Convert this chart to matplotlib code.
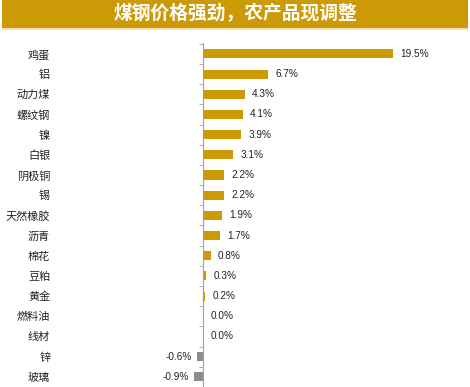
import numpy as np
import matplotlib
matplotlib.use('Agg')
import matplotlib.pyplot as plt
from matplotlib.patches import Rectangle

plt.rcParams['font.family'] = ['Noto Sans CJK SC', 'DejaVu Sans']

# 品种与周涨跌幅(%)
categorias = ['鸡蛋', '铝', '动力煤', '螺纹钢', '镍', '白银', '阴极铜', '锡', '天然橡胶',
              '沥青', '棉花', '豆粕', '黄金', '燃料油', '线材', '锌', '玻璃']
valores = [19.5, 6.7, 4.3, 4.1, 3.9, 3.1, 2.2, 2.2, 1.9, 1.7, 0.8, 0.3, 0.2, 0.0, 0.0, -0.6, -0.9]
titulo = '煤钢价格强劲，农产品现调整'

ORO = '#CC9A06'
GRIS = '#8C8C8C'

W, H = 470, 387
fig = plt.figure(figsize=(W / 100, H / 100), dpi=100)

# barra del título
fig.add_artist(Rectangle((2 / W, 1 - 28 / H), 466 / W, 28 / H, transform=fig.transFigure,
                         facecolor=ORO, edgecolor='none'))
fig.add_artist(Rectangle((2 / W, 1 - 30 / H), 466 / W, 1.5 / H, transform=fig.transFigure,
                         facecolor='#F3E3A8', edgecolor='none'))
fig.text(0.5, 1 - 14 / H, titulo, color='white', fontsize=13.5, fontweight='bold',
         ha='center', va='center')

# ejes: escala ~9.74 px por punto porcentual, eje cero en x=203 px
escala = 9.74
xmin, xmax = -1.5, 25.5
left_px = 203 - (0 - xmin) * escala
width_px = (xmax - xmin) * escala
fila = 20.3
ymin, ymax = -0.55, 16.4
top_px = 54 + ymin * fila
bottom_px = 54 + ymax * fila
ax = fig.add_axes([left_px / W, 1 - bottom_px / H, width_px / W, (bottom_px - top_px) / H])

y = np.arange(len(categorias))
colores = [ORO if v >= 0 else GRIS for v in valores]
ax.barh(y, valores, height=0.45, color=colores, edgecolor='none')

for yi, v in zip(y, valores):
    if v >= 0:
        ax.text(v + 0.75, yi, f'{v:.1f}%', ha='left', va='center', fontsize=7.2,
                family='Liberation Sans', color='#222222')
    else:
        ax.text(v - 0.5, yi, f'{v:.1f}%', ha='right', va='center', fontsize=7.2,
                family='Liberation Sans', color='#222222')

ax.set_xlim(xmin, xmax)
ax.set_ylim(ymax, ymin)
for s in ['top', 'right', 'bottom']:
    ax.spines[s].set_visible(False)
ax.spines['left'].set_position(('data', 0))
ax.spines['left'].set_color('#A0A0A0')
ax.set_xticks([])
ax.set_yticks(y)
ax.set_yticklabels(categorias, fontsize=8, color='#222222')
ax.tick_params(axis='y', which='major', length=0, pad=110)
ax.set_yticks(np.arange(-0.5, len(categorias), 1), minor=True)
ax.tick_params(axis='y', which='minor', length=3, color='#A0A0A0', direction='out')

plt.savefig('out.png', dpi=100)
